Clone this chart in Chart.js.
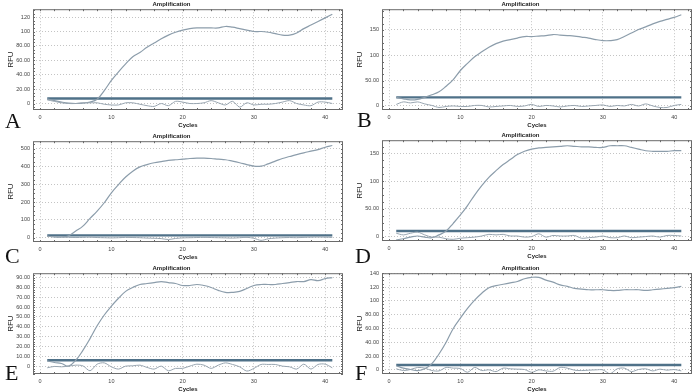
<!DOCTYPE html>
<html>
<head>
<meta charset="utf-8">
<script src="https://cdn.jsdelivr.net/npm/chart.js@4.4.1/dist/chart.umd.min.js"></script>
<style>
  html, body { margin: 0; padding: 0; background: #fff; }
  body { width: 700px; height: 392px; position: relative; overflow: hidden; }
  canvas { position: absolute; }
  .tag { position: absolute; font-family: "Liberation Serif", "DejaVu Serif", serif; font-size: 22px; line-height: 22px; color: #111; }
</style>
</head>
<body>
<canvas id="chartA" width="350" height="131" style="left:0;top:0"></canvas>
<canvas id="chartB" width="350" height="131" style="left:349px;top:0"></canvas>
<canvas id="chartC" width="350" height="131" style="left:0;top:132px"></canvas>
<canvas id="chartD" width="350" height="131" style="left:349px;top:131px"></canvas>
<canvas id="chartE" width="350" height="131" style="left:0;top:264px"></canvas>
<canvas id="chartF" width="350" height="131" style="left:349px;top:264px"></canvas>
<div class="tag" style="left:5px;top:110px">A</div>
<div class="tag" style="left:357px;top:109px">B</div>
<div class="tag" style="left:5px;top:245px">C</div>
<div class="tag" style="left:355px;top:245px">D</div>
<div class="tag" style="left:5px;top:362px">E</div>
<div class="tag" style="left:355px;top:362px">F</div>
<script>
const cycles = [1,2,3,4,5,6,7,8,9,10,11,12,13,14,15,16,17,18,19,20,21,22,23,24,25,26,27,28,29,30,31,32,33,34,35,36,37,38,39,40,41]
const xTicks = [0, 10, 20, 30, 40]

// panel A
const curveA = [6.5,4,2,0.5,0,0.5,2,6,18,32,44,55,65,71,78,84,90,95,99,102,104,105,105,105,105,107,106,104,102,100,100,99,97,95,95,98,104,109,114,119,124]
const noiseA = [5,3,1,0,0,1,1,1,-1,-2,-2,1,1,-1,-3,-4,0,-3,3,2,0,0,1,4,1,-2,3,-5,1,-2,-1,-1,0,2,4,0,-2,-3,2,2,0]
const yTicksA = [0, 20, 40, 60, 80, 100, 120]
const yLabelsA = ["0", "20.00", "40.00", "60.00", "80.00", "100", "120"]

// panel B
const curveB = [17,14,12,13,17,22,28,39,52,70,84,97,107,116,123,128,131,134,137,137,138,139,141,140,139,138,136,134,131,129,129,131,137,144,151,156,162,167,171,175,180]
const noiseB = [3,8,6,8,4,1,-3,-1,0,-1,-1,1,1,-2,-1,0,1,-1,0,3,-1,1,0,-2,0,1,-1,0,1,2,-1,1,0,3,0,4,0,-3,-3,1,3]
const yTicksB = [0, 50, 100, 150]
const yLabelsB = ["0", "50.00", "100", "150"]

// panel C
const curveC = [9,4,4,11,37,65,108,149,196,252,298,340,373,397,410,420,427,433,437,440,444,446,446,444,440,437,429,420,410,401,401,414,429,444,455,466,476,485,494,507,517]
const noiseC = [8,5,3,2,1,2,3,1,0,-1,0,2,1,0,-2,-3,-5,-10,-4,-1,0,1,2,1,0,-1,-2,0,2,-3,-15,-6,-2,0,1,0,2,3,4,3,2]
const yTicksC = [0, 100, 200, 300, 400, 500]
const yLabelsC = ["0", "100", "200", "300", "400", "500"]

// panel D
const curveD = [-6,-4,-1,1,-1,-2,3,10,24,39,56,75,92,107,119,130,139,148,154,158,160,161,162,163,164,163,162,162,161,161,164,164,164,161,158,155,154,154,154,155,155]
const noiseD = [6,3,6,8,3,-1,-1,-4,-5,-3,-2,-1,1,4,3,4,1,1,-1,0,5,-1,2,1,1,2,-3,-2,-1,1,-2,-2,1,-2,-1,0,1,-1,2,2,1]
const yTicksD = [0, 50, 100, 150]
const yLabelsD = ["0", "50.00", "100", "150"]

// panel E
const curveE = [5.3,3.7,2.7,0,6,16,28,41,52,61,69,76,80,83,84,85,86,85,84,82,82,83,82,80,77,75,75,76,79,82,83,83,83,84,85,86,86,88,87,89,90]
const noiseE = [-1.7,-0.3,-0.7,0,1,0.3,-4.7,2,3.3,-0.7,-3,0,0.3,1,-1.3,-3,0,-4.7,-2.3,-2.3,0,2,1,-2.3,1,3.3,1.7,-0.7,-5,-2.3,1.7,1.7,1.7,0,-0.7,-3,2,-3,1.7,2,-1.7]
const yTicksE = [0, 10, 20, 30, 40, 50, 60, 70, 80, 90]
const yLabelsE = ["0", "10.00", "20.00", "30.00", "40.00", "50.00", "60.00", "70.00", "80.00", "90.00"]

// panel F
const curveF = [6,2.4,0.5,-1,1.5,9,23,40,60,75,89,101,111,119,122,124,126,128,132,134,134,130,127,123,121,118,117,116,116,116,115,115,116,116,116,115,116,117,118,119,121]
const noiseF = [1.5,-1,0.5,3.5,2.5,-1,-1.5,3.5,2.5,2,-3.5,3.5,-1,0,-2.5,2.5,1.5,1,0.5,-3.5,0,-1.5,-2,3.5,2.5,-0.5,-1,-0.5,0,0,-5.5,1.5,2.5,-2.5,0.5,1.5,-1.5,1,-0.5,0.5,-1.5]
const yTicksF = [0, 20, 40, 60, 80, 100, 120, 140]
const yLabelsF = ["0", "20.00", "40.00", "60.00", "80.00", "100", "120", "140"]

const thresholds = { A: 7, B: 17, C: 13, D: 10, E: 6, F: 7 }

const curveColor = "#8c9dab"
const noiseColor = "#98a5b0"
const thresholdColor = "#4f7188"
const gridColor = "#c4c4c4"

// box round the plot + small tick marks, like the instrument software
const framePlugin = {
    id: "frame",
    afterDraw(chart) {
        const { ctx, chartArea: a, scales } = chart
        ctx.save()
        ctx.strokeStyle = "#6a6a6a"
        ctx.lineWidth = 1
        ctx.strokeRect(a.left + 0.5, a.top + 0.5, a.right - a.left - 1, a.bottom - a.top - 1)
        ctx.beginPath()
        for (let c = 0; c <= 42; c += 2) {
            const px = Math.round(scales.x.getPixelForValue(c)) + 0.5
            ctx.moveTo(px, a.top); ctx.lineTo(px, a.top + 2)
            ctx.moveTo(px, a.bottom); ctx.lineTo(px, a.bottom - 2)
        }
        const yt = scales.y.ticks
        const step = (yt[1].value - yt[0].value) / 4
        for (let v = yt[0].value - step * 4; v <= scales.y.max; v += step) {
            if (v < scales.y.min) continue
            const py = Math.round(scales.y.getPixelForValue(v)) + 0.5
            ctx.moveTo(a.left, py); ctx.lineTo(a.left + 2, py)
            ctx.moveTo(a.right, py); ctx.lineTo(a.right - 2, py)
        }
        ctx.stroke()
        ctx.restore()
    }
}

function toPoints(values) {
    return cycles.map(function (c, i) {
        return { x: c, y: values[i] }
    })
}

function drawPanel(id, curve, noise, threshold, yMin, yMax, yTicks, yLabels) {
    const tickFont = { family: "Liberation Sans", size: 5.5 }
    const config = {
        type: "line",
        data: {
            datasets: [{
                data: toPoints(noise),
                borderColor: noiseColor,
                borderWidth: 1,
                tension: 0.3,
                pointRadius: 0,
            }, {
                data: toPoints(curve),
                borderColor: curveColor,
                borderWidth: 1.2,
                tension: 0.4,
                pointRadius: 0,
            }, {
                data: [{ x: cycles[0], y: threshold }, { x: cycles[cycles.length - 1], y: threshold }],
                borderColor: thresholdColor,
                borderWidth: 2.4,
                pointRadius: 0,
            }]
        },
        options: {
            responsive: false,
            animation: false,
            layout: { padding: { left: 0, right: 7, top: 0, bottom: 0 } },
            plugins: {
                legend: { display: false },
                tooltip: { enabled: false },
                title: {
                    display: true,
                    text: "Amplification",
                    color: "#222",
                    font: { family: "Liberation Sans", size: 6, weight: "bold" },
                    padding: { top: 1, bottom: 1 }
                }
            },
            scales: {
                x: {
                    type: "linear",
                    min: -1,
                    max: 42.5,
                    afterBuildTicks: s => { s.ticks = xTicks.map(v => ({ value: v })) },
                    afterFit: s => { s.height = 21 },
                    grid: { color: gridColor, drawTicks: false },
                    border: { display: false, dash: [1, 2] },
                    ticks: { font: tickFont, color: "#444", padding: 4, maxRotation: 0, autoSkip: false },
                    title: {
                        display: true,
                        text: "Cycles",
                        color: "#222",
                        font: { family: "Liberation Sans", size: 6, weight: "bold" },
                        padding: { top: 0, bottom: 2 }
                    }
                },
                y: {
                    min: yMin,
                    max: yMax,
                    afterBuildTicks: s => { s.ticks = yTicks.map(v => ({ value: v })) },
                    afterFit: s => { s.width = 33 },
                    grid: { color: gridColor, drawTicks: false },
                    border: { display: false, dash: [1, 2] },
                    ticks: {
                        font: tickFont,
                        color: "#444",
                        padding: 3,
                        autoSkip: false,
                        callback: v => yLabels[yTicks.indexOf(v)]
                    },
                    title: {
                        display: true,
                        text: "RFU",
                        color: "#222",
                        font: { family: "Liberation Sans", size: 8 },
                        padding: { top: 6, bottom: 0 }
                    }
                }
            }
        },
        plugins: [framePlugin]
    }
    return new Chart(document.getElementById(id), config)
}

drawPanel("chartA", curveA, noiseA, thresholds.A, -9, 131, yTicksA, yLabelsA)
drawPanel("chartB", curveB, noiseB, thresholds.B, -8, 191, yTicksB, yLabelsB)
drawPanel("chartC", curveC, noiseC, thresholds.C, -24, 541, yTicksC, yLabelsC)
drawPanel("chartD", curveD, noiseD, thresholds.D, -8, 174, yTicksD, yLabelsD)
drawPanel("chartE", curveE, noiseE, thresholds.E, -8, 94.5, yTicksE, yLabelsE)
drawPanel("chartF", curveF, noiseF, thresholds.F, -6, 140, yTicksF, yLabelsF)
</script>
</body>
</html>
